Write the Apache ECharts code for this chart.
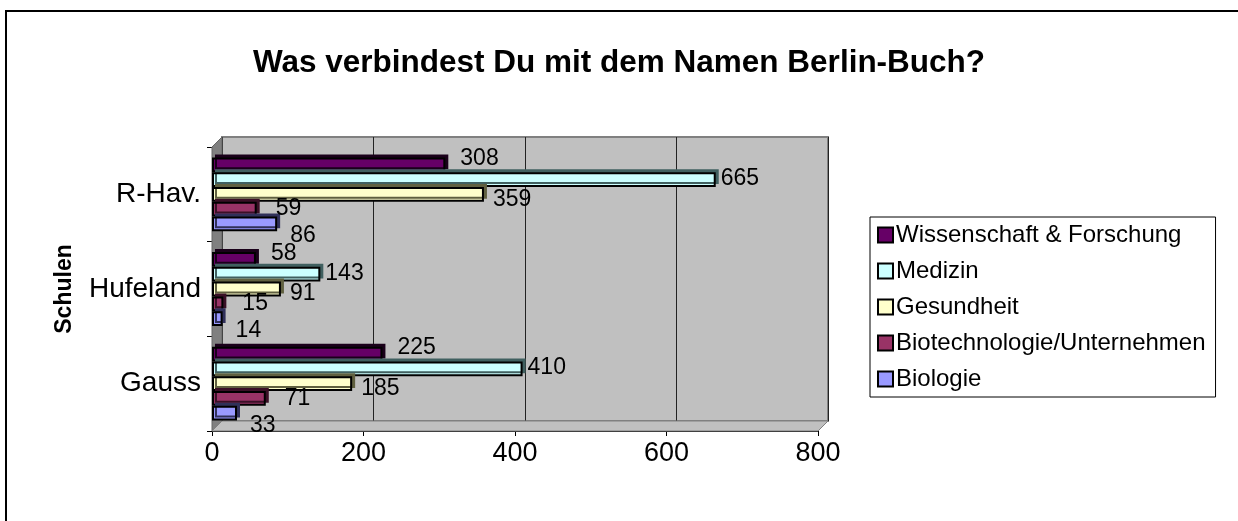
<!DOCTYPE html>
<html>
<head>
<meta charset="utf-8">
<script src="https://cdn.jsdelivr.net/npm/echarts@6/dist/echarts.min.js"></script>
<style>
html,body{margin:0;padding:0;background:#fff;}
#c{width:1238px;height:521px;}
</style>
</head>
<body>
<div id="c"></div>
<script>
// ---- data ----
var categories = ['Gauss', 'Hufeland', 'R-Hav.'];
var seriesNames = ['Wissenschaft & Forschung', 'Medizin', 'Gesundheit', 'Biotechnologie/Unternehmen', 'Biologie'];
var wissenschaft = [225, 58, 308];
var medizin = [410, 143, 665];
var gesundheit = [185, 91, 359];
var biotech = [71, 15, 59];
var biologie = [33, 14, 86];
var xTicks = [0, 200, 400, 600, 800];

// ---- layout ----
var W = 1238, H = 521;
var FL = 212, FR = 818, FT = 147, FB = 431; // front plane
var D = 10; // depth offset
var font = 'Liberation Sans, Arial, sans-serif';

var colors = {
  'Wissenschaft & Forschung': ['#660066', '#1a001a'],
  'Medizin': ['#CCFFFF', '#406060'],
  'Gesundheit': ['#FFFFCC', '#606040'],
  'Biotechnologie/Unternehmen': ['#993366', '#3a1026'],
  'Biologie': ['#9999FF', '#30305a']
};
var labelOffsets = {
  'Wissenschaft & Forschung': [10, -6],
  'Medizin': [0, -1],
  'Gesundheit': [4, 5],
  'Biotechnologie/Unternehmen': [14, 0],
  'Biologie': [8, 12]
};

function mkSeries(name, data) {
  return {
    name: name, type: 'bar', xAxisIndex: 1, yAxisIndex: 1,
    data: data, barGap: '0%', barCategoryGap: '22%',
    itemStyle: {
      color: colors[name][0], borderColor: '#000', borderWidth: 2,
      shadowColor: colors[name][1], shadowOffsetX: 3, shadowOffsetY: -3, shadowBlur: 0
    },
    label: {
      show: true, position: 'right', distance: 5, offset: labelOffsets[name],
      color: '#000', fontFamily: font, fontSize: 23
    },
    z: 5
  };
}

var chart = echarts.init(document.getElementById('c'), null, {renderer: 'canvas'});
chart.setOption({
  backgroundColor: '#fff',
  animation: false,
  title: {
    text: 'Was verbindest Du mit dem Namen Berlin-Buch?',
    left: 'center', top: 42,
    textStyle: {fontFamily: font, fontSize: 31.5, fontWeight: 'bold', color: '#000'}
  },
  legend: {
    orient: 'vertical', left: 870, top: 217,
    data: seriesNames,
    itemWidth: 15, itemHeight: 15, itemGap: 12,
    padding: [6, 10, 6, 7],
    borderColor: '#000', borderWidth: 1, backgroundColor: '#fff',
    textStyle: {fontFamily: font, fontSize: 24, color: '#000', padding: [0, 0, 0, -2]},
    icon: 'rect'
  },
  graphic: [
    {type: 'rect', shape: {x: 6, y: 11, width: W + 10, height: H + 10}, style: {fill: 'none', stroke: '#000', lineWidth: 2}, z: -10},
    // left wall
    {type: 'polygon', shape: {points: [[FL, FT], [FL + D, FT - D], [FL + D, FB - D], [FL, FB]]}, style: {fill: '#808080', stroke: '#666', lineWidth: 1}, z: 1},
    // floor
    {type: 'polygon', shape: {points: [[FL, FB], [FL + D, FB - D], [FR + D, FB - D], [FR, FB]]}, style: {fill: '#c0c0c0', stroke: '#808080', lineWidth: 1}, z: 1}
  ],
  grid: [
    {left: FL + D, right: W - FR - D, top: FT - D, bottom: H - FB + D, show: true, backgroundColor: '#c0c0c0', borderColor: '#808080', borderWidth: 2, z: 0},
    {left: FL, right: W - FR, top: FT, bottom: H - FB, show: false}
  ],
  xAxis: [
    {gridIndex: 0, type: 'value', min: 0, max: 800, interval: 200,
     axisLabel: {show: false}, axisLine: {show: false}, axisTick: {show: false},
     splitLine: {show: true, lineStyle: {color: '#222', width: 1}}},
    {gridIndex: 1, type: 'value', min: 0, max: 800, interval: 200,
     axisLine: {show: true, onZero: false, lineStyle: {color: '#000', width: 1}},
     axisTick: {show: true, length: 5, inside: false, lineStyle: {color: '#000'}},
     splitLine: {show: false},
     axisLabel: {fontFamily: font, fontSize: 27, color: '#000', margin: 9,
       formatter: function (v) { return xTicks.indexOf(v) >= 0 ? String(v) : ''; }}}
  ],
  yAxis: [
    {gridIndex: 0, type: 'category', data: categories, show: false},
    {gridIndex: 1, type: 'category', data: categories,
     axisLine: {show: true, lineStyle: {color: '#000'}},
     axisTick: {show: true, length: 5, lineStyle: {color: '#000'}},
     axisLabel: {fontFamily: font, fontSize: 28, color: '#000', margin: 11},
     name: 'Schulen', nameLocation: 'middle', nameGap: 136, nameRotate: 90,
     nameMoveOverlap: false,
     nameTextStyle: {fontFamily: font, fontSize: 23, fontWeight: 'bold', color: '#000'}}
  ],
  series: [
    mkSeries('Wissenschaft & Forschung', wissenschaft),
    mkSeries('Medizin', medizin),
    mkSeries('Gesundheit', gesundheit),
    mkSeries('Biotechnologie/Unternehmen', biotech),
    mkSeries('Biologie', biologie)
  ]
});
</script>
</body>
</html>
